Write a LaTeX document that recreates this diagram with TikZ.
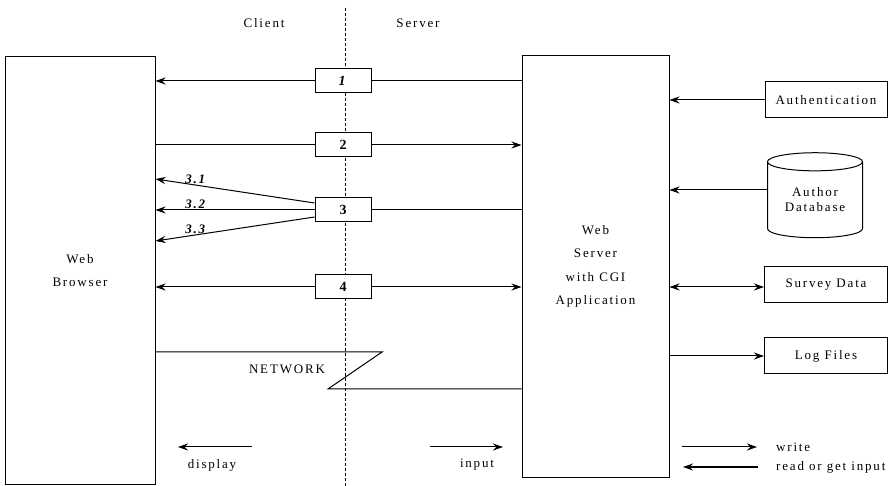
\documentclass[tikz,border=0pt]{standalone}
\usepackage{fontspec}
\setmainfont[LetterSpace=14]{Liberation Serif}
\usepackage{tikz}
\usetikzlibrary{arrows.meta,positioning,calc,shapes.geometric}
\tikzset{
  pane/.style ={rectangle,draw,line width=1pt,inner sep=0pt,align=center,font=\fontsize{13}{23.5}\selectfont},
  msg/.style  ={rectangle,draw,line width=1pt,fill=white,minimum width=56pt,minimum height=24pt,inner sep=0pt,font=\bfseries\fontsize{14}{16}\selectfont},
  store/.style={rectangle,draw,line width=1pt,minimum width=123pt,minimum height=36pt,inner sep=0pt,font=\fontsize{13}{15}\selectfont},
  tag/.style  ={inner sep=1pt,font=\fontsize{13}{15}\selectfont},
  sub/.style  ={inner sep=1pt,font=\bfseries\itshape\fontsize{13}{15}\selectfont},
  ln/.style   ={line width=1pt},
  ar/.style   ={-{Stealth[length=10pt,width=7pt]},line width=1pt},
  lr/.style   ={{Stealth[length=10pt,width=7pt]}-{Stealth[length=10pt,width=7pt]},line width=1pt},
}
\begin{document}
\begin{tikzpicture}[x=1pt,y=-1pt]
  \useasboundingbox (0,0) rectangle (895,486);
  % client / server split
  \draw[densely dashed,line width=1pt] (345,8) -- (345,486);
  \node[tag] (client) at (264,23) {Client};
  \node[tag] (serv)   at (418,23) {Server};
  % the two ends
  \node[pane,minimum width=150pt,minimum height=427pt] (browser) at (80,270.5) {Web\\Browser};
  \node[pane,minimum width=147pt,minimum height=421pt] (server) at (595.5,266.5) {Web\\Server\\with CGI\\Application};
  % requests
  \node[msg] (m1) at (343,81)  {\textit{1}};
  \node[msg] (m2) at (343,145) {2};
  \node[msg] (m3) at (343,210) {3};
  \node[msg] (m4) at (343,287) {4};
  \draw[ln] (server.west |- m1.east) -- (m1.east);
  \draw[ar] (m1.west) -- (browser.east |- m1.west);
  \draw[ln] (browser.east |- m2.west) -- (m2.west);
  \draw[ar] (m2.east) -- (server.west |- m2.east);
  \draw[ln] (server.west |- m3.east) -- (m3.east);
  \draw[ar] ([yshift=7pt]m3.west) -- (browser.east |- 0,179) node[sub,pos=0.75,above] {3.1};
  \draw[ar] (m3.west) -- (browser.east |- m3.west) node[sub,pos=0.75,above] {3.2};
  \draw[ar] ([yshift=-7pt]m3.west) -- (browser.east |- 0,241) node[sub,pos=0.75,above] {3.3};
  \draw[ar] (m4.west) -- (browser.east |- m4.west);
  \draw[ar] (m4.east) -- (server.west |- m4.east);
  % network link
  \coordinate (nw1) at (382,352);
  \coordinate (nw2) at (328,389);
  \draw[ln] (browser.east |- nw1) -- (nw1) -- (nw2) -- (server.west |- nw2);
  \node[tag] (net) at (287,369) {NETWORK};
  % display / input
  \coordinate (d1) at (252,447); \coordinate (d2) at (178,447);
  \draw[ar] (d1) -- (d2);
  \node[tag] (disp) at (212,465) {display};
  \coordinate (i1) at (430,447); \coordinate (i2) at (503,447);
  \draw[ar] (i1) -- (i2);
  \node[tag] (inp) at (477,465) {input};
  % back-end stores
  \node[store,minimum width=122pt] (auth) at (826,100) {Authentication};
  \node[cylinder,draw,line width=1pt,shape border rotate=90,aspect=0.3,minimum width=95pt,minimum height=85pt,
        align=center,inner sep=0pt,font=\fontsize{13}{15}\selectfont] (db) at (815,200) {Author\\Database};
  \node[store] (survey) at (826,285) {Survey Data};
  \node[store] (logs)   at (826,356) {Log Files};
  \draw[ar] (auth.west) -- (server.east |- auth.west);
  \draw[ar] (db.west |- 0,190) -- (server.east |- 0,190);
  \draw[lr] (server.east |- 0,287) -- (survey.west |- 0,287);
  \draw[ar] (server.east |- logs.west) -- (logs.west);
  % legend
  \coordinate (w1) at (682,447); \coordinate (w2) at (757,447);
  \draw[ar] (w1) -- (w2);
  \node[tag,anchor=west] (wr) at (775,447) {write};
  \coordinate (r1) at (758,467); \coordinate (r2) at (683,467);
  \draw[ar,line width=1.8pt] (r1) -- (r2);
  \node[tag,anchor=west] (rd) at (775,467) {read or get input};
\end{tikzpicture}
\end{document}
